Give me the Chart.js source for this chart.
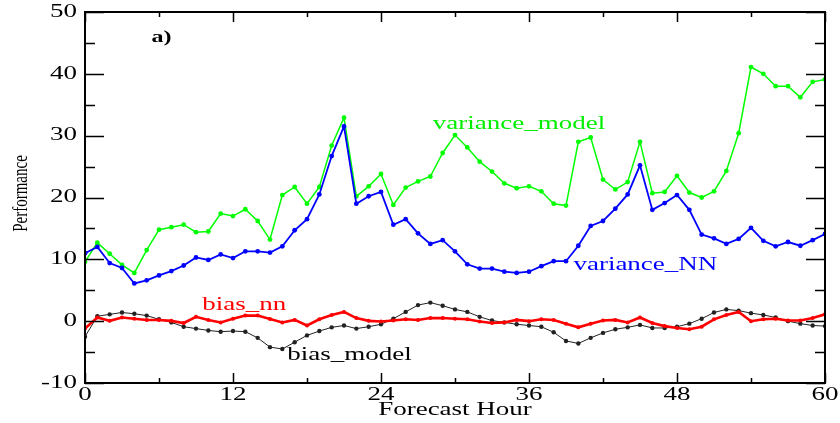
<!DOCTYPE html>
<html>
<head>
<meta charset="utf-8">
<script src="https://cdn.jsdelivr.net/npm/chart.js@4/dist/chart.umd.min.js"></script>
<style>
  body { margin: 0; background: #fff; }
  #wrap { width: 840px; height: 423px; }
</style>
</head>
<body>
<div id="wrap"><canvas id="perfChart" width="840" height="423"></canvas></div>
<script>
// forecast hours 0..60
const hours = [0,1,2,3,4,5,6,7,8,9,10,11,12,13,14,15,16,17,18,19,20,21,22,23,24,25,26,27,28,29,30,
  31,32,33,34,35,36,37,38,39,40,41,42,43,44,45,46,47,48,49,50,51,52,53,54,55,56,57,58,59,60];

const varianceModel = [9.6,12.7,10.9,9.1,7.8,11.5,14.8,15.2,15.6,14.4,14.5,17.4,17.0,18.1,16.2,13.2,
  20.4,21.7,19.0,21.7,28.4,32.9,20.2,21.8,23.8,18.8,21.6,22.6,23.4,27.2,30.1,
  28.1,25.8,24.2,22.3,21.5,21.8,21.0,19.0,18.7,29.0,29.7,22.9,21.3,22.5,29.0,
  20.7,20.9,23.5,20.8,20.0,21.0,24.3,30.4,41.1,40.0,38.0,38.0,36.2,38.7,39.1];

const varianceNN = [11.0,12.0,9.4,8.6,6.1,6.6,7.4,8.1,9.0,10.3,9.9,10.8,10.2,11.3,11.3,11.1,
  12.1,14.7,16.5,20.5,26.7,31.5,19.0,20.2,20.9,15.6,16.5,14.2,12.5,13.1,11.3,
  9.2,8.5,8.5,8.0,7.8,8.0,8.9,9.7,9.7,12.2,15.4,16.2,18.2,20.5,25.2,
  18.0,19.1,20.4,18.0,14.0,13.4,12.5,13.3,15.1,13.0,12.1,12.8,12.2,13.1,14.1];

const biasNN = [-1.2,0.6,0.05,0.6,0.4,0.2,0.2,0.05,-0.3,0.7,0.2,-0.2,0.4,0.9,0.9,0.35,
  -0.2,0.2,-0.7,0.3,1.0,1.5,0.5,0.05,-0.05,0.1,0.3,0.2,0.5,0.5,0.4,
  0.3,-0.05,-0.3,-0.2,0.2,0.0,0.3,0.2,-0.4,-1.0,-0.4,0.1,0.2,-0.2,0.6,
  -0.3,-0.8,-1.1,-1.3,-0.9,0.3,1.0,1.5,0.0,0.3,0.4,0.1,0.1,0.5,1.1];

const biasModel = [-2.5,0.8,1.1,1.4,1.2,0.9,0.3,-0.2,-0.9,-1.2,-1.5,-1.7,-1.6,-1.7,-2.7,-4.2,
  -4.5,-3.4,-2.3,-1.6,-1.0,-0.7,-1.2,-0.9,-0.5,0.4,1.5,2.6,3.0,2.5,1.9,
  1.5,0.7,0.1,-0.2,-0.5,-0.7,-0.9,-1.8,-3.2,-3.6,-2.7,-1.9,-1.3,-1.0,-0.6,
  -1.1,-1.1,-0.9,-0.4,0.4,1.4,1.9,1.7,1.3,1.0,0.6,0.0,-0.4,-0.7,-0.8];

const xTicks = [0, 12, 24, 36, 48, 60];
const yTicks = [-10, 0, 10, 20, 30, 40, 50];

// text labels placed in data units: [text, hour, value, colour, bold]
const labels = [
  ['a)', 5.4, 45.8, '#000', true],
  ['variance_model', 28.2, 31.9, '#00ee00', false],
  ['variance_NN', 39.6, 9.1, '#0000ff', false],
  ['bias_nn', 9.5, 2.5, '#ff0000', false],
  ['bias_model', 16.4, -5.45, '#000', false]
];

const SERIF = '"Liberation Serif", "Times New Roman", serif';
const STRETCH = 1.5;

function toPoints(values) {
  return hours.map((h, i) => ({ x: h, y: values[i] }));
}

function wideText(ctx, txt, x, y, font, color, align) {
  ctx.save();
  ctx.translate(x, y);
  ctx.scale(STRETCH, 1);
  ctx.font = font;
  ctx.fillStyle = color;
  ctx.textAlign = align;
  ctx.textBaseline = 'middle';
  ctx.fillText(txt, 0, 0);
  ctx.restore();
}

const framePlugin = {
  id: 'frameAndText',
  afterDraw(chart) {
    const ctx = chart.ctx;
    const a = chart.chartArea;
    const xs = chart.scales.x;
    const ys = chart.scales.y;

    ctx.save();
    ctx.strokeStyle = '#000';
    ctx.lineWidth = 1.5;
    ctx.beginPath();
    // y ticks, major every 10, minor every 5, on both sides pointing in
    for (let v = -10; v <= 50; v += 5) {
      const py = Math.round(ys.getPixelForValue(v)) + 0.5;
      const len = v % 10 === 0 ? 19 : 10;
      ctx.moveTo(a.left, py); ctx.lineTo(a.left + len, py);
      ctx.moveTo(a.right, py); ctx.lineTo(a.right - len, py);
    }
    // x ticks, major every 12, minor every 6
    for (let h = 0; h <= 60; h += 6) {
      const px = Math.round(xs.getPixelForValue(h)) + 0.5;
      const len = h % 12 === 0 ? 10 : 5;
      ctx.moveTo(px, a.bottom); ctx.lineTo(px, a.bottom - len);
      ctx.moveTo(px, a.top); ctx.lineTo(px, a.top + len);
    }
    ctx.stroke();

    ctx.lineWidth = 2;
    ctx.strokeRect(a.left, a.top, a.right - a.left, a.bottom - a.top);
    ctx.restore();

    const font = '18px ' + SERIF;
    yTicks.forEach(v => {
      wideText(ctx, String(v), a.left - 8, ys.getPixelForValue(v), font, '#000', 'right');
    });
    xTicks.forEach(h => {
      wideText(ctx, String(h), xs.getPixelForValue(h), a.bottom + 12, font, '#000', 'center');
    });
    wideText(ctx, 'Forecast Hour', (a.left + a.right) / 2, a.bottom + 27, font, '#000', 'center');

    // y axis title, rotated
    ctx.save();
    ctx.translate(22, (a.top + a.bottom) / 2 - 4);
    ctx.rotate(-Math.PI / 2);
    ctx.scale(1, 1.35);
    ctx.font = '15px ' + SERIF;
    ctx.fillStyle = '#000';
    ctx.textAlign = 'center';
    ctx.textBaseline = 'middle';
    ctx.fillText('Performance', 0, 0);
    ctx.restore();

    labels.forEach(([txt, h, v, color, bold]) => {
      const f = (bold ? 'bold 16px ' : '18px ') + SERIF;
      wideText(ctx, txt, xs.getPixelForValue(h), ys.getPixelForValue(v), f, color, 'left');
    });
  }
};

function series(values, color, width, radius, order) {
  return {
    data: toPoints(values),
    borderColor: color,
    backgroundColor: color,
    borderWidth: width,
    pointRadius: radius,
    pointBorderWidth: 0,
    pointBackgroundColor: color,
    tension: 0,
    order: order
  };
}

new Chart(document.getElementById('perfChart'), {
  type: 'line',
  data: {
    datasets: [
      series(varianceModel, '#00ff00', 1.5, 2.4, 3),
      series(varianceNN, '#0000ff', 1.8, 2.4, 1),
      series(biasModel, '#222222', 1, 2.2, 2),
      series(biasNN, '#ff0000', 2.6, 2, 0)
    ]
  },
  options: {
    responsive: false,
    animation: false,
    layout: { padding: { left: 85, right: 15, top: 12, bottom: 40 } },
    plugins: { legend: { display: false }, tooltip: { enabled: false } },
    scales: {
      x: { type: 'linear', min: 0, max: 60, display: false },
      y: { type: 'linear', min: -10, max: 50, display: false }
    }
  },
  plugins: [framePlugin]
});
</script>
</body>
</html>
